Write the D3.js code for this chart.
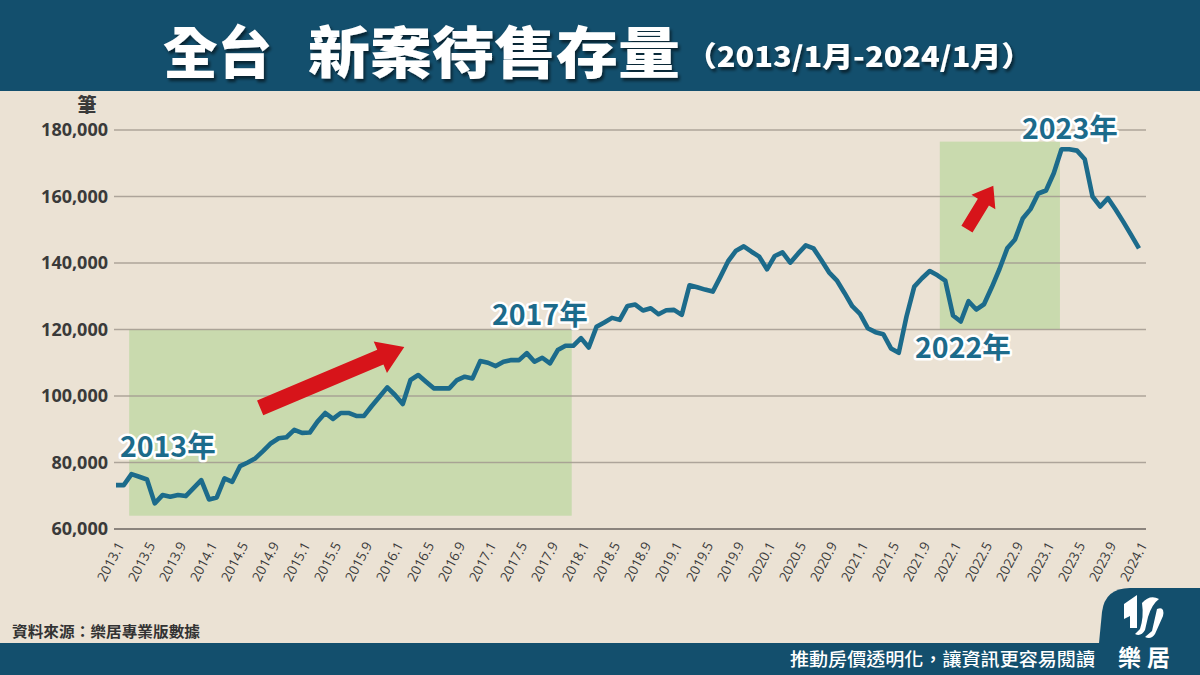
<!DOCTYPE html>
<html><head><meta charset="utf-8">
<script src="https://cdn.jsdelivr.net/npm/d3@7"></script>
<style>
html,body{margin:0;padding:0;background:#ebe2d4;}
svg{display:block;}
text{font-family:"Noto Sans CJK TC","Noto Sans",sans-serif;}
</style></head>
<body>
<svg id="c" width="1200" height="675"></svg>
<script>
// ---- data ----
const values = [
73200,73200,76500,75700,74900,67700,70200,69700,70200,69900,72300,74700,
68900,69500,75200,74200,78900,80000,81300,83500,85800,87300,87600,89800,
88900,89000,92300,94900,93100,94900,94900,94000,94000,97000,99800,102600,
100300,97600,104800,106300,104300,102300,102300,102300,104800,105800,105300,110500,
110000,109000,110300,110800,110800,112900,110300,111500,109800,113800,115100,115100,
117400,114600,120800,122100,123500,122900,127100,127500,125700,126400,124600,125800,
125900,124400,133300,132700,132000,131400,135900,140600,143700,145000,143400,141900,
138100,142100,143200,140100,142800,145300,144400,140900,137200,134800,131000,127000,
124700,120400,119200,118600,114300,113000,123900,132900,135400,137600,136300,134700,
124200,122400,128500,126000,127600,132700,138200,144400,147100,153400,156200,160900,
161800,167000,174200,174200,173800,171200,160000,157000,159500,156000,152300,148400,
144400];
const xTickLabels = ["2013.1","2013.5","2013.9","2014.1","2014.5","2014.9","2015.1","2015.5","2015.9",
"2016.1","2016.5","2016.9","2017.1","2017.5","2017.9","2018.1","2018.5","2018.9","2019.1","2019.5","2019.9",
"2020.1","2020.5","2020.9","2021.1","2021.5","2021.9","2022.1","2022.5","2022.9","2023.1","2023.5","2023.9","2024.1"];
const yTicks = [60000,80000,100000,120000,140000,160000,180000];
const highlightBoxes = [ {from:1.7, to:58.8, low:64000, high:120000}, {from:106.3, to:121.8, low:120000, high:176500} ];
const yearNotes = [ {label:"2013年", i:0.5, v:81650}, {label:"2017年", i:48.5, v:121350}, {label:"2022年", i:103.1, v:111400}, {label:"2023年", i:116.9, v:177300} ];
const arrows = [ {i0:18.6, v0:96400, i1:37.2, v1:114700}, {i0:109.8, v0:150200, i1:113.2, v1:163200} ];

// ---- layout ----
const svg = d3.select("#c");
const W = 1200, H = 675;
const x = d3.scaleLinear().domain([0, values.length-1]).range([116, 1139]);
const y = d3.scaleLinear().domain([60000,180000]).range([529,130]);

svg.append("rect").attr("width",W).attr("height",H).attr("fill","#ebe2d4");

// title bar
svg.append("rect").attr("x",0).attr("y",0).attr("width",W).attr("height",91).attr("fill","#134f6d");
const defs = svg.append("defs");
const f = defs.append("filter").attr("id","sh").attr("x","-10%").attr("y","-20%").attr("width","120%").attr("height","150%");
f.append("feDropShadow").attr("dx",2).attr("dy",3).attr("stdDeviation",1.5).attr("flood-color","#000").attr("flood-opacity",0.55);
const tg = svg.append("g").attr("fill","#fff").attr("filter","url(#sh)").style("font-weight",900);
tg.append("text").attr("x",163).attr("y",73).attr("font-size",56).attr("textLength",109).attr("lengthAdjust","spacingAndGlyphs").text("全台");
tg.append("text").attr("x",308).attr("y",73).attr("font-size",56).attr("textLength",372).attr("lengthAdjust","spacingAndGlyphs").text("新案待售存量");
tg.append("text").attr("x",686).attr("y",67).attr("font-size",28).attr("textLength",346).attr("lengthAdjust","spacingAndGlyphs").text("（2013/1月-2024/1月）");

// highlight boxes
svg.append("g").selectAll("rect").data(highlightBoxes).join("rect")
  .attr("x",d=>x(d.from)).attr("width",d=>x(d.to)-x(d.from))
  .attr("y",d=>y(d.high)).attr("height",d=>y(d.low)-y(d.high))
  .attr("fill","#c6d9aa").attr("opacity",0.92);

// gridlines
svg.append("g").selectAll("line").data(yTicks).join("line")
  .attr("x1",114).attr("x2",1146).attr("y1",d=>y(d)).attr("y2",d=>y(d))
  .attr("stroke",d=>d===60000?"#6b6560":"#a39a90").attr("stroke-width",d=>d===60000?1.6:1.3)
  .attr("opacity",d=>d===60000?1:0.85);

// y axis labels
const yAxis = d3.axisLeft(y).tickValues(yTicks).tickSize(0).tickPadding(0).tickFormat(d3.format(","));
const ya = svg.append("g").attr("transform","translate(108,0)").call(yAxis);
ya.select(".domain").remove();
ya.selectAll("text").attr("fill","#3a3a3a").attr("font-size",18).style("font-weight",700)
  .style("font-family","'Open Sans','Noto Sans',sans-serif");
svg.append("text").attr("x",87).attr("y",112).attr("text-anchor","middle").attr("fill","#3a3a3a")
  .attr("font-size",19).style("font-weight",900).text("筆");

// x axis labels
const xTickIdx = xTickLabels.map((d,k)=>k*4);
const xAxis = d3.axisBottom(x).tickValues(xTickIdx).tickSize(0).tickPadding(0).tickFormat((d,k)=>xTickLabels[k]);
const xa = svg.append("g").attr("transform","translate(0,543)").call(xAxis);
xa.select(".domain").remove();
xa.selectAll(".tick text").attr("fill","#3a3a3a").attr("font-size",13.5).style("font-weight",500)
  .style("font-family","'Open Sans','Noto Sans',sans-serif")
  .attr("text-anchor","end").attr("dy","0.35em").attr("x",0).attr("y",0)
  .attr("transform","translate(4,0) rotate(-62)");

// line
const line = d3.line().x((d,i)=>x(i)).y(d=>y(d)).curve(d3.curveLinear);
svg.append("path").datum(values).attr("d",line).attr("fill","none").attr("stroke","#1c6b8b")
  .attr("stroke-width",4.6).attr("stroke-linejoin","round");

// arrows
function arrowPath(x0,y0,x1,y1,sw,hw,hl){
  const dx=x1-x0, dy=y1-y0, L=Math.hypot(dx,dy), ux=dx/L, uy=dy/L, nx=-uy, ny=ux;
  const bx=x1-ux*hl, by=y1-uy*hl;
  const p=[[x0+nx*sw/2,y0+ny*sw/2],[bx+nx*sw/2,by+ny*sw/2],[bx+nx*hw/2,by+ny*hw/2],[x1,y1],
           [bx-nx*hw/2,by-ny*hw/2],[bx-nx*sw/2,by-ny*sw/2],[x0-nx*sw/2,y0-ny*sw/2]];
  return "M"+p.map(q=>q.join(",")).join("L")+"Z";
}
svg.append("g").selectAll("path").data(arrows).join("path")
  .attr("d",(a,k)=>k===0 ? arrowPath(x(a.i0),y(a.v0),x(a.i1),y(a.v1),16,34,26)
                         : arrowPath(x(a.i0),y(a.v0),x(a.i1),y(a.v1),13,28,19))
  .attr("fill","#d7141a");

// year annotations
svg.append("g").selectAll("text").data(yearNotes).join("text")
  .attr("x",d=>x(d.i)).attr("y",d=>y(d.v)).text(d=>d.label)
  .attr("font-size",28.5).style("font-weight",700).attr("fill","#1c6b8b")
  .attr("stroke","#fff").attr("stroke-width",5).attr("stroke-linejoin","round").style("paint-order","stroke");

// source
svg.append("text").attr("x",12).attr("y",637).attr("fill","#333").attr("font-size",15).style("font-weight",700)
  .attr("textLength",188).attr("lengthAdjust","spacingAndGlyphs").text("資料來源：樂居專業版數據");

// footer
svg.append("rect").attr("x",0).attr("y",643).attr("width",W).attr("height",32).attr("fill","#134f6d");
svg.append("text").attr("x",790).attr("y",666).attr("fill","#fff").attr("font-size",18).style("font-weight",500)
  .attr("textLength",305).attr("lengthAdjust","spacingAndGlyphs").text("推動房價透明化，讓資訊更容易閱讀");
// logo block
svg.append("path").attr("d","M1099,643 L1102,612 Q1105,588 1130,588 L1200,588 L1200,675 L1099,675 Z").attr("fill","#134f6d");
const lg = svg.append("g").attr("fill","#fff");
lg.append("path").attr("d","M1124,604 L1137,595 L1137,628 L1130,628 L1130,616 L1124,619 Z");
lg.append("path").attr("d","M1142,603 Q1150,594 1159,599 Q1152,604 1148,617 L1145,630 Q1141,637 1135,634 L1140,629 Q1144,617 1142,603 Z");
lg.append("path").attr("d","M1157,609 Q1165,606 1163,616 L1155,634 Q1151,640 1145,637 L1152,631 Z");
svg.append("text").attr("x",1147).attr("y",666).attr("text-anchor","middle").attr("fill","#fff").attr("font-size",23).style("font-weight",700).attr("letter-spacing",6).text("樂居");
</script>
</body></html>
